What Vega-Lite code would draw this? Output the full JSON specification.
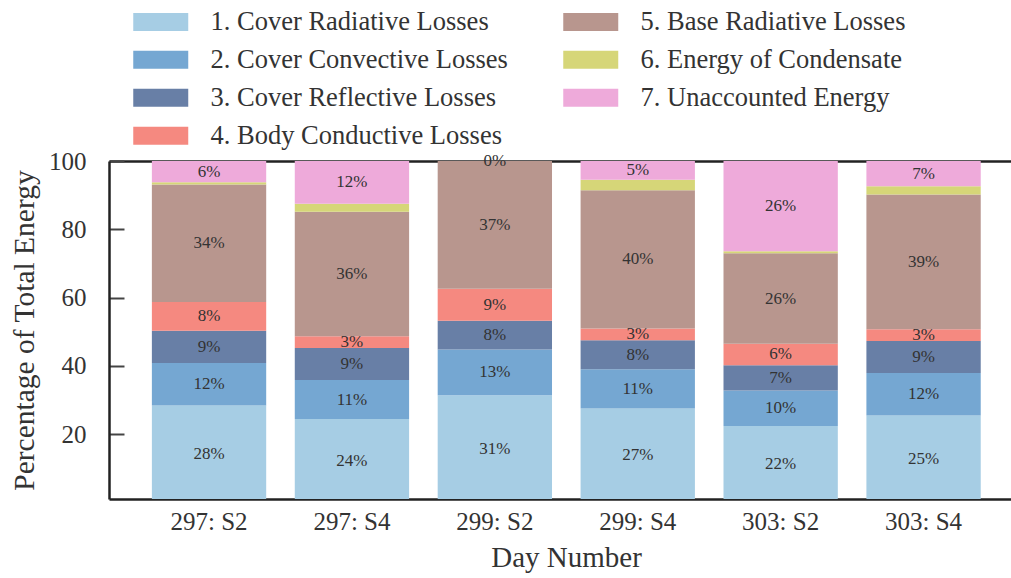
{
  "$schema": "https://vega.github.io/schema/vega-lite/v6.json",
  "width": 902,
  "height": 338,
  "autosize": {"type": "none"},
  "padding": {"left": 109, "top": 161, "right": 0, "bottom": 79},
  "background": "white",
  "config": {
    "view": {"stroke": null},
    "font": "Liberation Serif",
    "axis": {"labelFont": "Liberation Serif", "titleFont": "Liberation Serif", "titleFontWeight": "normal"}
  },
  "data": {
    "values": [
      {"day": "297: S2", "series": "1. Cover Radiative Losses", "value": 28.4},
      {"day": "297: S2", "series": "2. Cover Convective Losses", "value": 12.45},
      {"day": "297: S2", "series": "3. Cover Reflective Losses", "value": 9.4},
      {"day": "297: S2", "series": "4. Body Conductive Losses", "value": 8.45},
      {"day": "297: S2", "series": "5. Base Radiative Losses", "value": 34.45},
      {"day": "297: S2", "series": "6. Energy of Condensate", "value": 0.6},
      {"day": "297: S2", "series": "7. Unaccounted Energy", "value": 6.25},
      {"day": "297: S4", "series": "1. Cover Radiative Losses", "value": 24.4},
      {"day": "297: S4", "series": "2. Cover Convective Losses", "value": 11.45},
      {"day": "297: S4", "series": "3. Cover Reflective Losses", "value": 9.4},
      {"day": "297: S4", "series": "4. Body Conductive Losses", "value": 3.45},
      {"day": "297: S4", "series": "5. Base Radiative Losses", "value": 36.45},
      {"day": "297: S4", "series": "6. Energy of Condensate", "value": 2.36},
      {"day": "297: S4", "series": "7. Unaccounted Energy", "value": 12.49},
      {"day": "299: S2", "series": "1. Cover Radiative Losses", "value": 31.4},
      {"day": "299: S2", "series": "2. Cover Convective Losses", "value": 13.4},
      {"day": "299: S2", "series": "3. Cover Reflective Losses", "value": 8.4},
      {"day": "299: S2", "series": "4. Body Conductive Losses", "value": 9.4},
      {"day": "299: S2", "series": "5. Base Radiative Losses", "value": 37.4},
      {"day": "299: S2", "series": "6. Energy of Condensate", "value": 0},
      {"day": "299: S2", "series": "7. Unaccounted Energy", "value": 0},
      {"day": "299: S4", "series": "1. Cover Radiative Losses", "value": 27.49},
      {"day": "299: S4", "series": "2. Cover Convective Losses", "value": 11.49},
      {"day": "299: S4", "series": "3. Cover Reflective Losses", "value": 8.49},
      {"day": "299: S4", "series": "4. Body Conductive Losses", "value": 3.49},
      {"day": "299: S4", "series": "5. Base Radiative Losses", "value": 40.49},
      {"day": "299: S4", "series": "6. Energy of Condensate", "value": 3.06},
      {"day": "299: S4", "series": "7. Unaccounted Energy", "value": 5.49},
      {"day": "303: S2", "series": "1. Cover Radiative Losses", "value": 22.4},
      {"day": "303: S2", "series": "2. Cover Convective Losses", "value": 10.4},
      {"day": "303: S2", "series": "3. Cover Reflective Losses", "value": 7.4},
      {"day": "303: S2", "series": "4. Body Conductive Losses", "value": 6.3},
      {"day": "303: S2", "series": "5. Base Radiative Losses", "value": 26.45},
      {"day": "303: S2", "series": "6. Energy of Condensate", "value": 0.6},
      {"day": "303: S2", "series": "7. Unaccounted Energy", "value": 26.45},
      {"day": "303: S4", "series": "1. Cover Radiative Losses", "value": 25.45},
      {"day": "303: S4", "series": "2. Cover Convective Losses", "value": 12.45},
      {"day": "303: S4", "series": "3. Cover Reflective Losses", "value": 9.4},
      {"day": "303: S4", "series": "4. Body Conductive Losses", "value": 3.45},
      {"day": "303: S4", "series": "5. Base Radiative Losses", "value": 39.45},
      {"day": "303: S4", "series": "6. Energy of Condensate", "value": 2.4},
      {"day": "303: S4", "series": "7. Unaccounted Energy", "value": 7.4}
    ]
  },
  "transform": [
    {"stack": "value", "groupby": ["day"], "sort": [{"field": "series", "order": "ascending"}], "as": ["y0", "y1"]},
    {"calculate": "(datum.y0 + datum.y1) / 2", "as": "mid"},
    {"calculate": "format(datum.value, '.0f') + '%'", "as": "lab"}
  ],
  "resolve": {"axis": {"x": "independent"}},
  "layer": [
    {
      "mark": {"type": "bar", "clip": true},
      "encoding": {
        "x": {
          "field": "day", "type": "nominal",
          "sort": ["297: S2", "297: S4", "299: S2", "299: S4", "303: S2", "303: S4"],
          "scale": {"range": [0, 914.6], "paddingInner": 0.2, "paddingOuter": 0.3},
          "axis": {
            "orient": "bottom", "title": "Day Number", "titleFontSize": 29, "titleColor": "#333",
            "titleX": 457, "titlePadding": 9,
            "labelAngle": 0, "labelFontSize": 25, "labelColor": "#333", "labelPadding": 25,
            "domainColor": "#222", "domainWidth": 2.5,
            "tickColor": "#444", "tickWidth": 2, "tickSize": -15
          }
        },
        "y": {
          "field": "y0", "type": "quantitative",
          "scale": {"domain": [1, 100], "nice": false, "zero": false},
          "axis": {
            "title": "Percentage of Total Energy", "titleFontSize": 29.5, "titleColor": "#333", "titlePadding": 9,
            "values": [20, 40, 60, 80, 100], "grid": false,
            "labelFontSize": 25, "labelColor": "#333", "labelPadding": 38,
            "domainColor": "#222", "domainWidth": 2.5,
            "tickColor": "#444", "tickWidth": 2, "tickSize": -15
          }
        },
        "y2": {"field": "y1"},
        "color": {
          "field": "series", "type": "nominal",
          "scale": {
            "domain": ["1. Cover Radiative Losses", "2. Cover Convective Losses", "3. Cover Reflective Losses", "4. Body Conductive Losses", "5. Base Radiative Losses", "6. Energy of Condensate", "7. Unaccounted Energy"],
            "range": ["#a6cde4", "#75a7d2", "#687fa6", "#f58980", "#b8968e", "#d6d678", "#eeaada"]
          },
          "legend": {
            "orient": "none", "legendX": 20, "legendY": -152.5, "columns": 2, "title": null,
            "symbolType": "M-1,-1H5.111V1H-1Z", "symbolSize": 324, "symbolStrokeWidth": 0, "symbolOpacity": 1,
            "labelFont": "Liberation Serif", "labelFontSize": 26.5, "labelColor": "#333", "labelOffset": 55, "labelLimit": 400,
            "rowPadding": 11, "columnPadding": 51, "padding": 0
          }
        }
      }
    },
    {
      "transform": [{"filter": "datum.series !== '6. Energy of Condensate'"}],
      "mark": {"type": "text", "font": "Liberation Serif", "fontSize": 17, "color": "#333", "baseline": "middle"},
      "encoding": {
        "x": {"field": "day", "type": "nominal", "sort": ["297: S2", "297: S4", "299: S2", "299: S4", "303: S2", "303: S4"], "axis": null},
        "y": {"field": "mid", "type": "quantitative"},
        "text": {"field": "lab"}
      }
    },
    {
      "mark": {"type": "tick", "opacity": 0},
      "encoding": {
        "x": {
          "field": "day", "type": "nominal",
          "sort": ["297: S2", "297: S4", "299: S2", "299: S4", "303: S2", "303: S4"],
          "axis": {"orient": "top", "title": null, "labels": false, "ticks": false, "domainColor": "#222", "domainWidth": 2.5}
        }
      }
    }
  ]
}
